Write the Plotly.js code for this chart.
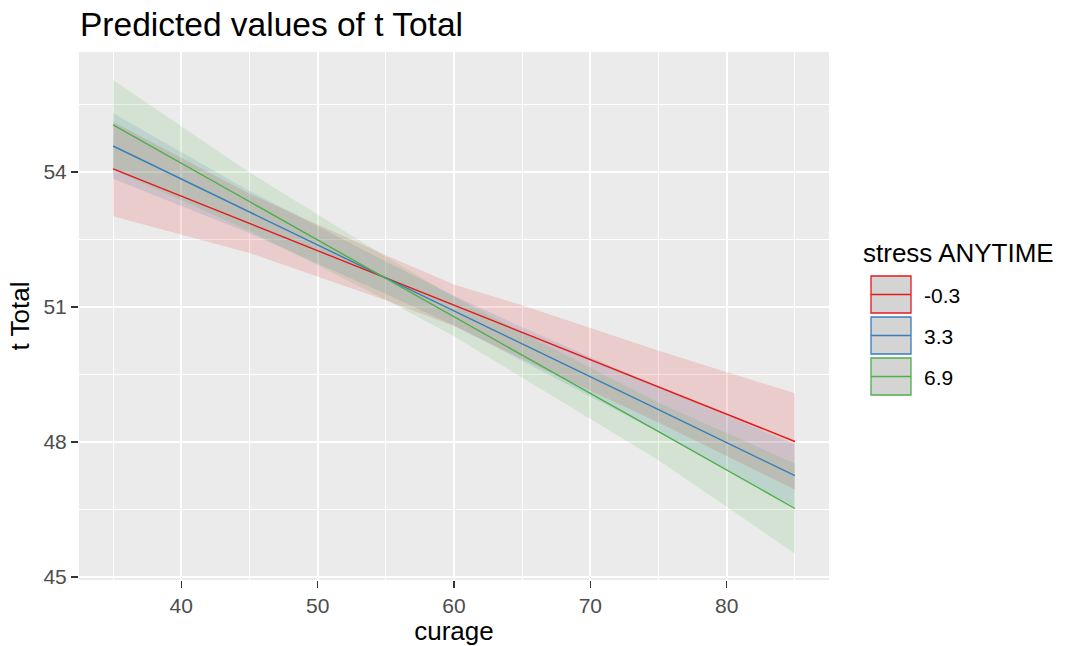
<!DOCTYPE html>
<html>
<head>
<meta charset="utf-8">
<script src="https://cdn.plot.ly/plotly-3.0.1.min.js"></script>
<style>html,body{margin:0;padding:0;background:#fff;}#chart{width:1068px;height:646px;}</style>
</head>
<body>
<div id="chart"></div>
<script>
// ---- data ----
const curage = [35, 45, 55, 60, 65, 75, 85];
const groups = ['-0.3', '3.3', '6.9'];
const groupColors = ['#E41A1C', '#377EB8', '#4DAF4A'];

const predLow  = [54.07, 52.86, 51.65, 51.04, 50.44, 49.23, 48.01];   // stress -0.3
const lowerLow = [53.02, 52.20, 51.15, 50.58, 49.84, 48.43, 46.94];
const upperLow = [55.12, 53.52, 52.15, 51.50, 51.04, 50.03, 49.08];

const predMid  = [54.58, 53.11, 51.65, 50.92, 50.18, 48.72, 47.25];   // stress 3.3
const lowerMid = [53.85, 52.64, 51.29, 50.59, 49.81, 48.22, 46.55];
const upperMid = [55.31, 53.58, 52.01, 51.25, 50.55, 49.22, 47.95];

const predHigh  = [55.05, 53.34, 51.64, 50.79, 49.93, 48.23, 46.52];  // stress 6.9
const lowerHigh = [54.05, 52.69, 51.16, 50.35, 49.43, 47.59, 45.52];
const upperHigh = [56.05, 53.99, 52.12, 51.23, 50.43, 48.87, 47.52];

const xTicks = [40, 50, 60, 70, 80];
const yTicks = [45, 48, 51, 54];

const preds = [predLow, predMid, predHigh];
const lowers = [lowerLow, lowerMid, lowerHigh];
const uppers = [upperLow, upperMid, upperHigh];

function rgba(hex, a) {
  const r = parseInt(hex.slice(1,3),16), g = parseInt(hex.slice(3,5),16), b = parseInt(hex.slice(5,7),16);
  return `rgba(${r},${g},${b},${a})`;
}

const traces = [];
groups.forEach((g, i) => {
  traces.push({
    type: 'scatter', mode: 'lines',
    x: curage.concat(curage.slice().reverse()),
    y: uppers[i].concat(lowers[i].slice().reverse()),
    fill: 'toself', fillcolor: rgba(groupColors[i], 0.15),
    line: {width: 0, color: 'rgba(0,0,0,0)'},
    hoverinfo: 'skip', showlegend: false
  });
});
groups.forEach((g, i) => {
  traces.push({
    type: 'scatter', mode: 'lines', name: g,
    x: curage, y: preds[i],
    line: {color: groupColors[i], width: 1.4},
    showlegend: false
  });
});

// ---- layout geometry (pixels) ----
const W = 1068, H = 646;
const L = 79, R = 829, T = 52, B = 580;
const px2x = p => (p - L) / (R - L);
const py2y = p => (B - p) / (B - T);

const shapes = [], annotations = [];
const keyX0 = 871, keyX1 = 911, keyTop0 = 276, keyH = 37, keyPitch = 41;
groups.forEach((g, i) => {
  const top = keyTop0 + i * keyPitch, bot = top + keyH, mid = (top + bot) / 2;
  shapes.push({type: 'rect', xref: 'paper', yref: 'paper',
    x0: px2x(keyX0), x1: px2x(keyX1), y0: py2y(bot), y1: py2y(top),
    fillcolor: '#D4D4D4', line: {color: groupColors[i], width: 1.3}});
  shapes.push({type: 'line', xref: 'paper', yref: 'paper',
    x0: px2x(keyX0), x1: px2x(keyX1), y0: py2y(mid), y1: py2y(mid),
    line: {color: groupColors[i], width: 1.4}});
  annotations.push({xref: 'paper', yref: 'paper', x: px2x(922), y: py2y(mid + 1),
    xanchor: 'left', yanchor: 'middle', text: g, showarrow: false,
    font: {family: 'Liberation Sans, Arial, sans-serif', size: 21, color: '#000'}});
});
annotations.push({xref: 'paper', yref: 'paper', x: px2x(861), y: py2y(253),
  xanchor: 'left', yanchor: 'middle', text: 'stress ANYTIME', showarrow: false,
  font: {family: 'Liberation Sans, Arial, sans-serif', size: 26, color: '#000'}});

const layout = {
  width: W, height: H,
  margin: {l: L, r: W - R, t: T, b: H - B, pad: 0},
  paper_bgcolor: '#FFFFFF', plot_bgcolor: '#EBEBEB',
  font: {family: 'Liberation Sans, Arial, sans-serif', color: '#000'},
  title: {text: 'Predicted values of t Total', xref: 'container', yref: 'container',
    x: 80 / W, xanchor: 'left', y: 1 - 24 / H, yanchor: 'middle',
    font: {size: 33.5, color: '#000'}},
  showlegend: false,
  xaxis: {
    range: [32.5, 87.5], tickvals: xTicks, ticktext: xTicks.map(String),
    ticks: 'outside', ticklen: 7, tickwidth: 1.5, tickcolor: '#333333',
    tickfont: {size: 21, color: '#4D4D4D'},
    showgrid: true, gridcolor: '#FFFFFF', gridwidth: 2,
    minor: {tickvals: [35, 45, 55, 65, 75, 85], showgrid: true, gridcolor: '#FFFFFF', gridwidth: 1, ticks: ''},
    zeroline: false, showline: false,
    title: {text: 'curage', font: {size: 26, color: '#000'}, standoff: 5}
  },
  yaxis: {
    range: [44.93, 56.67], tickvals: yTicks, ticktext: yTicks.map(String),
    ticks: 'outside', ticklen: 7, tickwidth: 1.5, tickcolor: '#333333',
    tickfont: {size: 21, color: '#4D4D4D'},
    showgrid: true, gridcolor: '#FFFFFF', gridwidth: 2,
    minor: {tickvals: [46.5, 49.5, 52.5, 55.5], showgrid: true, gridcolor: '#FFFFFF', gridwidth: 1, ticks: ''},
    zeroline: false, showline: false,
    title: {text: 't Total', font: {size: 26, color: '#000'}, standoff: 6}
  },
  shapes: shapes, annotations: annotations
};

Plotly.newPlot('chart', traces, layout, {displayModeBar: false, staticPlot: true});
</script>
</body>
</html>
